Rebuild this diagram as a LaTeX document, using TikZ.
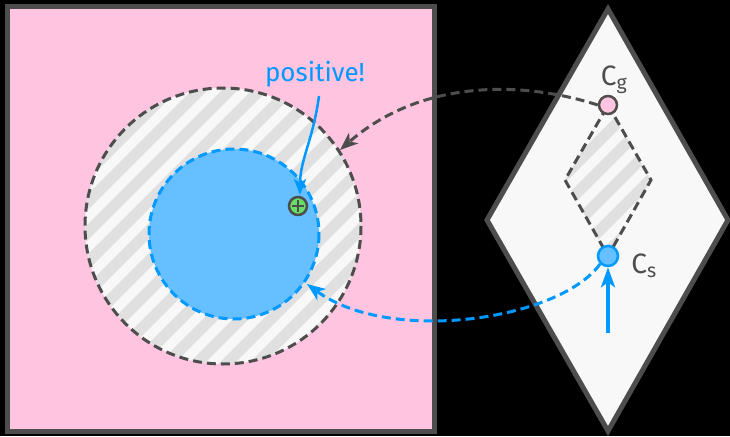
\documentclass[tikz,border=0pt]{standalone}
\usepackage{fontspec}
\setmainfont{Fira Sans}
\usetikzlibrary{arrows.meta}
\definecolor{frame}{HTML}{4D4D4D}
\definecolor{pinkbg}{HTML}{FFC4E0}
\definecolor{paper}{HTML}{F8F8F8}
\definecolor{stripe}{HTML}{E0E0E0}
\definecolor{bluefill}{HTML}{66BFFF}
\definecolor{blueline}{HTML}{0099FF}
\definecolor{greenfill}{HTML}{66DD66}
\definecolor{pinkdot}{HTML}{FFC4E0}
\tikzset{
  thickframe/.style={draw=frame, line width=5pt},
  dashgray/.style={draw=frame, line width=3pt, dash pattern=on 9pt off 5pt},
  dashblue/.style={draw=blueline, line width=3pt, dash pattern=on 9pt off 5pt},
  dot/.style={circle, draw=frame, line width=2.5pt, minimum size=18pt, inner sep=0pt},
  lbl/.style={inner sep=0pt, font=\fontsize{28}{30}\selectfont},
  hatch/.style={stripe, line width=11pt},
}
\begin{document}
\begin{tikzpicture}[x=1pt,y=-1pt]
\fill[black] (0,0) rectangle (730,436);
\useasboundingbox (0,0) rectangle (730,436);
% square
\draw[thickframe, fill=pinkbg] (7,7) rectangle (434,431);
% outer circle with hatching
\fill[paper] (223,226) circle (138);
\begin{scope}
\clip (223,226) circle (138);
\foreach \k in {-420,-390,...,800} {
  \draw[hatch] (\k,500) -- (\k+500,0);
}
\end{scope}
% inner blue circle
\fill[bluefill] (234,234) circle (85);
\draw[dashgray] (223,226) circle (138);
\draw[dashblue] (234,234) circle (85);
% diamond
\draw[thickframe, fill=paper] (608,9) -- (728,220) -- (608,431) -- (487,220) -- cycle;
% inner hatched diamond
\coordinate (cgp) at (608,105);
\coordinate (csp) at (608,256);
\begin{scope}
\clip (608,105) -- (651,180) -- (608,256) -- (565,180) -- cycle;
\foreach \k in {-120,-90,...,700} {
  \draw[hatch] (\k,500) -- (\k+500,0);
}
\end{scope}
\draw[dashgray] (cgp) -- (651,180) -- (csp) -- (565,180) -- cycle;
% nodes
\node[dot, fill=pinkdot] (cg) at (cgp) {};
\node[dot, draw=blueline, fill=bluefill, minimum size=20pt] (cs) at (csp) {};
\node[lbl, text=frame] (cgl) at (614,80) {C\textsubscript{g}};
\node[lbl, text=frame] (csl) at (644,266) {C\textsubscript{s}};
\node[dot, fill=greenfill] (plus) at (298,206) {};
\draw[frame, line width=2pt] (292,206) -- (304,206) (298,200) -- (298,212);
\node[lbl, text=blueline, font=\fontsize{26}{28}\selectfont] (pos) at (315,74) {positive!};
% arrows
\coordinate (tgt1) at (340,150);
\coordinate (tgt2) at (307,284);
\coordinate (pos1) at (319,96);
\coordinate (pin) at (300,195);
\coordinate (up0) at (608,333);
\draw[dashgray, -{Stealth[length=18pt,width=14pt,inset=5pt]}] (cg.west) .. controls (520,80) and (420,80) .. (tgt1);
\draw[dashblue, -{Stealth[length=18pt,width=14pt,inset=5pt]}] (cs.south west) .. controls (560,320) and (390,345) .. (tgt2);
\draw[blueline, line width=2.5pt, -{Stealth[length=16pt,width=12pt,inset=4pt]}] (pos1) .. controls (313,140) and (300,160) .. (pin);
\draw[blueline, line width=4.5pt, -{Stealth[length=20pt,width=14pt,inset=5pt]}] (up0) -- (cs.south);
\end{tikzpicture}
\end{document}
